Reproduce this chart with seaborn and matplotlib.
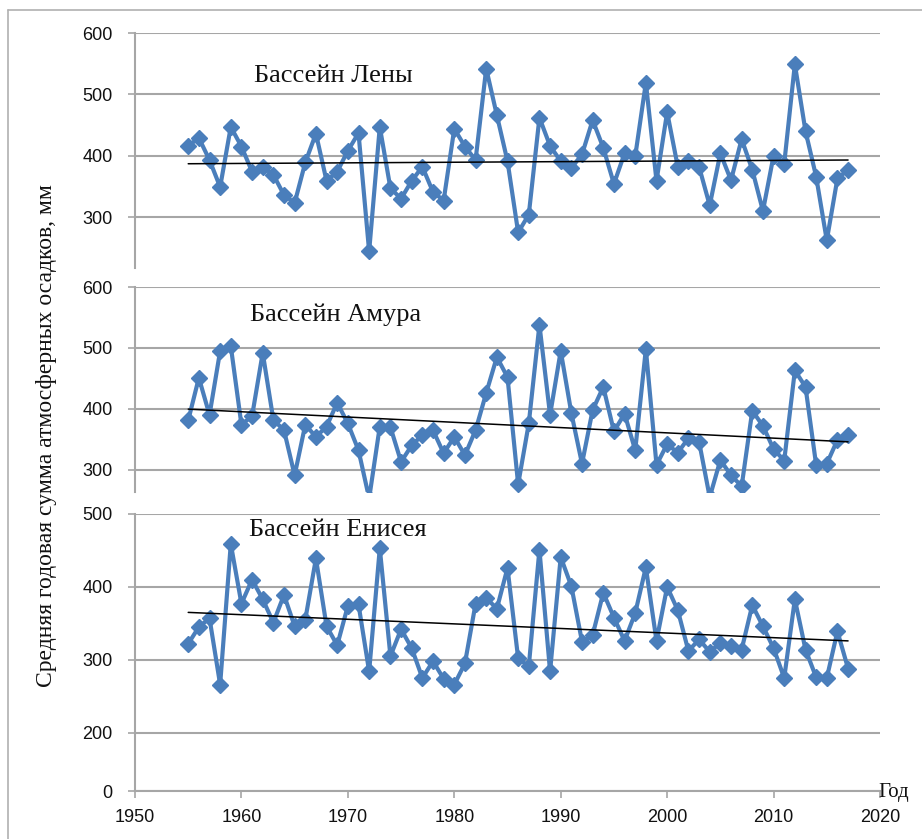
import numpy as np
import matplotlib
matplotlib.use("Agg")
import matplotlib.pyplot as plt
from matplotlib.lines import Line2D
import seaborn as sns

# годы наблюдений
years = list(range(1955, 2018))

# Бассейн Лены, мм
lena = [416, 429, 393, 349, 447, 415, 374, 382, 369, 336,
        323, 389, 436, 359, 374, 408, 437, 244, 447, 347,
        330, 359, 382, 341, 327, 444, 415, 393, 542, 466,
        391, 275, 304, 462, 416, 391, 380, 402, 458, 413,
        354, 404, 399, 519, 359, 471, 382, 391, 382, 319,
        404, 360, 427, 377, 310, 400, 387, 549, 440, 366,
        262, 363, 377]

# Бассейн Амура, мм
amur = [381, 451, 390, 495, 503, 374, 388, 492, 382, 365,
        291, 374, 354, 371, 410, 376, 332, 253, 371, 370,
        313, 340, 357, 365, 327, 354, 324, 365, 426, 485,
        452, 276, 376, 538, 390, 495, 393, 310, 398, 436,
        363, 392, 332, 498, 308, 342, 328, 352, 346, 255,
        316, 291, 273, 397, 372, 334, 315, 463, 436, 308,
        310, 349, 357]

# Бассейн Енисея, мм
enisei = [322, 345, 357, 266, 459, 377, 410, 383, 351, 389,
          346, 355, 439, 346, 320, 374, 376, 284, 453, 305,
          342, 316, 275, 298, 274, 266, 295, 377, 385, 370,
          426, 302, 291, 451, 284, 441, 401, 325, 334, 392,
          358, 326, 364, 427, 326, 400, 368, 312, 328, 311,
          323, 319, 314, 375, 346, 316, 275, 383, 314, 276,
          275, 339, 288]

titles = ["Бассейн Лены", "Бассейн Амура", "Бассейн Енисея"]
yticks_list = [[300, 400, 500, 600], [300, 400, 500, 600], [0, 200, 300, 400, 500]]
ylims = [(217, 600), (264, 600), (0, 500)]

sns.set_style("white")
plt.rcParams["font.family"] = ["Liberation Sans", "DejaVu Sans"]

BLUE = "#4a7ebb"
GRID = "#a6a6a6"
W, H = 922, 839

fig = plt.figure(figsize=(W / 100, H / 100), dpi=100)


def px_box(top, bottom, left=135, right=880):
    return [left / W, 1 - bottom / H, (right - left) / W, (bottom - top) / H]


axes = [fig.add_axes(px_box(33, 268)),
        fig.add_axes(px_box(287, 491.7)),
        fig.add_axes(px_box(514, 791))]


# нижняя панель: ниже 200 шкала сжата
def fwd(y):
    y = np.asarray(y, dtype=float)
    return np.where(y >= 200, y, 200 - (200 - y) * 0.4)


def inv(u):
    u = np.asarray(u, dtype=float)
    return np.where(u >= 200, u, 200 - (200 - u) / 0.4)


axes[2].set_yscale("function", functions=(fwd, inv))

title_pos = [(333, 76), (336, 315), (338, 530)]

for i, (ax, vals) in enumerate(zip(axes, [lena, amur, enisei])):
    sns.lineplot(x=years, y=vals, ax=ax, color=BLUE, lw=3.0, marker="D",
                 markersize=8, markeredgecolor=BLUE, markeredgewidth=1,
                 zorder=3)
    sns.regplot(x=years, y=vals, ax=ax, scatter=False, ci=None, truncate=True,
                line_kws=dict(color="black", lw=1.1, zorder=4))
    ax.set_xlim(1950, 2020)
    ax.set_ylim(*ylims[i])
    ax.set_yticks(yticks_list[i])
    ax.set_xlabel("")
    ax.set_ylabel("")
    ax.grid(axis="y", color=GRID, lw=1.5)
    ax.grid(axis="x", visible=False)
    for s in ["top", "right"]:
        ax.spines[s].set_visible(False)
    ax.spines["left"].set_color(GRID)
    ax.spines["left"].set_linewidth(1.5)
    ax.tick_params(axis="y", direction="out", length=5, width=1.2, color=GRID,
                   pad=11, labelsize=13, labelcolor="#111111", left=True)
    if i < 2:
        ax.spines["bottom"].set_visible(False)
        ax.set_xticks([])
    else:
        ax.spines["bottom"].set_color(GRID)
        ax.spines["bottom"].set_linewidth(1.5)
        ax.set_xticks(list(range(1950, 2021, 10)))
        ax.tick_params(axis="x", direction="out", length=5, width=1.2,
                       color=GRID, pad=8, labelsize=13, labelcolor="#111111",
                       bottom=True)
    ax.patch.set_alpha(0)
    fig.text(title_pos[i][0] / W, 1 - title_pos[i][1] / H, titles[i],
             ha="center", va="center", fontsize=19,
             family=["Liberation Serif", "DejaVu Serif"], color="#111111")

fig.text(47 / W, 1 - 436 / H, "Средняя годовая сумма атмосферных осадков, мм",
         rotation=90, ha="center", va="center", fontsize=17,
         family=["Liberation Serif", "DejaVu Serif"], color="#111111")
fig.text(878 / W, 1 - 793 / H, "Год", ha="left", va="center", fontsize=15,
         family=["Liberation Serif", "DejaVu Serif"], color="#111111")

# рамка вокруг рисунка
fig.add_artist(Line2D([8 / W, 8 / W], [0, 1 - 10 / H], color="#b0b0b0", lw=1.2))
fig.add_artist(Line2D([8 / W, 1], [1 - 10 / H, 1 - 10 / H], color="#b0b0b0", lw=1.2))

fig.savefig("out.png", dpi=100, facecolor="white")
